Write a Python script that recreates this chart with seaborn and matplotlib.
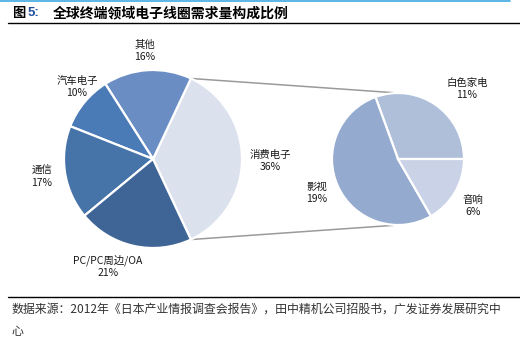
import numpy as np
import matplotlib
matplotlib.use("Agg")
import matplotlib.pyplot as plt
import seaborn as sns

# Global terminal-market demand mix for electronic coils (share, %)
main_labels = ["消费电子", "其他", "汽车电子", "通信", "PC/PC周边/OA"]
main_values = [36, 16, 10, 17, 21]
main_colors = ["#DCE1EE", "#6A8EC4", "#4B7BB6", "#4673A8", "#3F6597"]

# Breakdown of the consumer-electronics slice (share of total, %)
sub_labels = ["白色家电", "影视", "音响"]
sub_values = [11, 19, 6]
sub_colors = ["#AFBFDA", "#95AACF", "#C9D2E6"]

title_prefix = "图"
title_num = "5:"
title_text = "全球终端领域电子线圈需求量构成比例"
source_line1 = "数据来源：2012年《日本产业情报调查会报告》，田中精机公司招股书，广发证券发展研究中"
source_line2 = "心"

sns.set_theme(style="white")
plt.rcParams["font.family"] = ["Noto Sans CJK SC", "DejaVu Sans"]

W, H = 520, 349
fig = plt.figure(figsize=(W / 100, H / 100), dpi=100)
ax = fig.add_axes([0, 0, 1, 1])

wedge_style = dict(edgecolor="white", linewidth=1.6)

# Main pie: first slice centred on the right-hand side
c1, r1 = (153, 190), 89
start1 = -main_values[0] / sum(main_values) * 360 / 2
wedges1, _ = ax.pie(main_values, colors=main_colors, startangle=start1,
                    counterclock=True, center=c1, radius=r1,
                    wedgeprops=wedge_style, frame=True)

# Sub pie for the consumer-electronics breakdown
c2, r2 = (398, 190), 66
wedges2, _ = ax.pie(sub_values, colors=sub_colors, startangle=0,
                    counterclock=True, center=c2, radius=r2,
                    wedgeprops=wedge_style, frame=True)
ax.set_xlim(0, W)
ax.set_ylim(0, H)
ax.set_aspect("equal")
ax.axis("off")

# Connector lines from the consumer slice edges to the sub pie
w0 = wedges1[0]
for ang, sign in ((w0.theta2, 1), (w0.theta1, -1)):
    x0 = c1[0] + r1 * np.cos(np.radians(ang))
    y0 = c1[1] + r1 * np.sin(np.radians(ang))
    ax.plot([x0, c2[0]], [y0, c2[1] + sign * r2], color="#9a9a9a",
            lw=1.1, zorder=0.5)

label_kw = dict(ha="center", va="center", fontsize=7.5, color="#1a1a1a",
                linespacing=1.3)

# Main pie labels (positions measured from the top edge)
main_pos = [(270, 161), (145, 51), (77, 87), (42, 177), (108, 266)]
for (x, yp), lab, v in zip(main_pos, main_labels, main_values):
    ax.text(x, H - yp, f"{lab}\n{v}%", **label_kw)

# Sub pie labels
sub_pos = [(467, 89), (317, 193), (473, 206)]
for (x, yp), lab, v in zip(sub_pos, sub_labels, sub_values):
    ax.text(x, H - yp, f"{lab}\n{v}%", **label_kw)

# Header: accent line, title, rule
ax.plot([0, 510], [H - 1, H - 1], color="#3FA9E0", lw=1.2)
ax.text(12, H - 13, title_prefix, ha="left", va="center", fontsize=9.5,
        fontweight="bold", color="black")
ax.text(28, H - 13, title_num, ha="left", va="center", fontsize=9.5,
        fontweight="bold", color="#1F4E9C",
        family=["Liberation Sans", "DejaVu Sans"])
ax.text(53, H - 13, title_text, ha="left", va="center", fontsize=10.0,
        fontweight="bold", color="black")
ax.plot([8, 520], [H - 23, H - 23], color="black", lw=1.0)

# Footer rule and source note
ax.plot([8, 520], [H - 297, H - 297], color="black", lw=1.0)
ax.text(12, H - 309, source_line1, ha="left", va="center", fontsize=8.6,
        color="#333333")
ax.text(12, H - 331, source_line2, ha="left", va="center", fontsize=8.6,
        color="#333333")

fig.savefig("out.png", dpi=100)
